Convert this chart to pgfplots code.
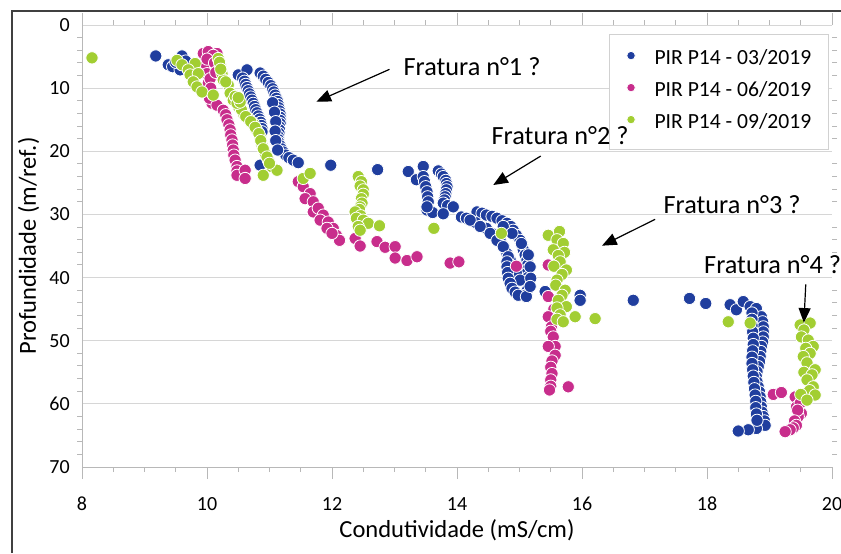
\documentclass[border=0pt]{standalone}
\usepackage{fontspec}
\setmainfont{Carlito}
\usepackage{pgfplots}
\pgfplotsset{compat=1.18}
\usetikzlibrary{arrows.meta}
\definecolor{sblue}{RGB}{32,62,158}
\definecolor{smag}{RGB}{200,45,140}
\definecolor{sgreen}{RGB}{162,206,50}
\begin{document}
\begin{tikzpicture}
\path[use as bounding box] (0,0) rectangle (630.75pt,-414.75pt);
\draw[line width=1.5pt, color=black!75] (9pt,-414.75pt) -- (9pt,-8.25pt) -- (630.75pt,-8.25pt);
\begin{axis}[
  at={(61.5pt,-350.25pt)}, anchor=south west,
  scale only axis, width=562.5pt, height=331.5pt,
  xmin=8, xmax=20, ymin=0, ymax=70, y dir=reverse,
  xtick={8,10,...,20}, ytick={0,10,...,70},
  minor x tick num=3, minor y tick num=4,
  tick align=outside, major tick length=9pt, minor tick length=3.75pt,
  tick style={color=black!28, line width=0.75pt},
  major y tick style={draw=none},
  ymajorgrids, major grid style={color=black!16, line width=0.75pt},
  axis line style={draw=none},
  tick label style={font=\fontsize{15pt}{18pt}\selectfont, inner sep=0pt},
  /pgf/number format/assume math mode=true,
  xticklabel style={anchor=north, yshift=-13.5pt},
  yticklabel style={anchor=east},
  xlabel={Condutividade (mS/cm)},
  ylabel={Profundidade (m/ref.)},
  label style={font=\fontsize{18.4pt}{22pt}\selectfont},
  xlabel style={at={(axis description cs:0.5,-0.1606)}, anchor=base},
  ylabel style={at={(axis description cs:-0.0713,0.5)}, anchor=center},
  clip=false,
  legend cell align=left,
  legend image code/.code={\draw[#1, mark size=3.2pt] plot coordinates {(0pt,3.2pt)}; \path (-3pt,0pt) (17.25pt,0pt);},
  legend style={at={(0.7027,0.9796)}, anchor=north west, draw=black!18, line width=0.75pt,
    font=\fontsize{16.2pt}{19pt}\selectfont, inner xsep=12.75pt, inner ysep=11.5pt, row sep=9pt,
    nodes={inner sep=0pt, text height=11pt, text depth=4pt}},
]
\draw[black!28, line width=0.75pt] (axis description cs:0,1) -- (axis description cs:0,0) -- (axis description cs:1,0);
\addplot[only marks, mark=*, mark size=4.6pt, mark options={draw=white, line width=0.6pt, fill=sblue}] coordinates {
(9.18,4.9) (9.38,6.3) (9.45,6.6) (9.57,7.1) (9.6,4.9) (9.66,5.7) (9.5,5.9)
(10.5,7.9) (10.64,7.1)
(10.85,7.6) (10.9,8.1) (10.94,8.6) (10.98,9.1) (11.02,9.6) (11.05,10.1) (11.07,10.6) (11.09,11.1) (11.11,11.6) (11.13,12.1) (11.14,12.6) (11.15,13.1) (11.16,13.6) (11.17,14.1) (11.17,14.6) (11.17,15.1) (11.17,15.6) (11.16,16.1) (11.16,16.6) (11.15,17.1) (11.14,17.6) (11.14,18.1) (11.15,18.6) (11.17,19.1) (11.19,19.6) (11.22,20.1) (11.26,20.6) (11.31,21.0) (11.38,21.4) (11.46,21.8)
(11.05,12.3) (11.08,13.8) (11.1,15.3) (11.09,16.8) (11.1,18.3) (11.13,19.8)
(10.57,8.4) (10.6,8.9) (10.62,9.4) (10.64,9.9) (10.66,10.4) (10.68,10.9) (10.7,11.4) (10.72,11.9) (10.74,12.4) (10.76,12.9) (10.78,13.4) (10.8,13.9) (10.82,14.4) (10.84,14.9) (10.86,15.4) (10.87,15.9) (10.88,16.4) (10.88,16.9)
(10.85,22.2) (11.98,22.2) (12.73,22.9)
(13.22,23.2) (13.35,24.5) (13.46,22.4) (13.7,23.1) (13.75,23.6) (13.78,24.0) (13.82,24.6) (13.83,25.1) (13.84,25.6) (13.83,26.1) (13.82,26.7) (13.81,27.2) (13.8,27.7) (13.78,28.2) (13.85,28.6) (13.94,28.8) (13.52,29.3) (13.61,29.7) (13.78,29.9) (14.07,30.4) (14.32,29.6) (14.4,29.8) (14.47,30.1) (14.56,30.3) (14.64,30.6) (14.72,31.0) (14.8,31.4) (14.86,31.9) (14.9,32.5) (14.95,33.3) (15.01,34.1) (15.04,34.8) (15.06,35.6) (15.09,36.4) (15.12,37.2) (15.13,38.0) (15.13,38.7) (15.12,39.3) (15.13,40.0) (15.14,40.7) (15.14,41.4) (15.12,42.1) (15.09,42.8)
(13.46,24.0) (13.48,24.8) (13.5,25.6) (13.52,26.4) (13.53,27.2) (13.54,28.0) (13.52,28.8)
(14.15,30.6) (14.3,31.3) (14.47,32.2) (14.58,33.1) (14.69,34.1) (14.75,35.1) (14.8,36.2) (14.85,37.2) (14.9,38.3) (14.95,39.3) (15.01,40.4)
(14.21,30.9) (14.37,31.9) (14.53,33.0) (14.64,34.1) (14.74,35.1) (14.82,36.7) (14.8,37.5) (14.8,38.3) (14.81,39.2) (14.82,40.1) (14.85,40.9) (14.88,41.7) (14.93,42.3) (14.98,42.8) (15.11,43.0)
(14.74,31.9) (14.88,33.0) (15.03,34.6) (15.14,36.4) (15.17,38.3) (15.18,40.1) (15.17,41.4)
(15.41,42.2) (15.97,42.8) (15.97,43.6) (16.82,43.6)
(17.72,43.3) (17.98,44.1) (18.37,44.3) (18.47,45.1) (18.58,43.8) (18.69,44.6) (18.79,44.9)
(18.87,46.2) (18.89,47.0) (18.9,47.8) (18.9,48.6) (18.9,49.4) (18.89,50.2) (18.87,50.9) (18.86,51.7) (18.85,52.5) (18.84,53.3) (18.82,54.1) (18.8,54.9) (18.79,55.7) (18.8,56.5) (18.82,57.3) (18.84,58.1) (18.85,58.9) (18.86,59.7) (18.87,60.5) (18.88,61.3) (18.9,62.0) (18.92,62.7) (18.93,63.4) (18.79,63.9) (18.66,64.1) (18.5,64.3)
(18.72,45.6) (18.72,46.6) (18.72,47.6) (18.73,48.6) (18.74,49.6) (18.74,50.6) (18.73,51.6) (18.72,52.6) (18.72,53.6) (18.73,54.6) (18.74,55.6) (18.75,56.6) (18.76,57.6) (18.77,58.6) (18.78,59.6) (18.78,60.6) (18.79,61.6) (18.8,62.6)
};
\addlegendentry{PIR P14 - 03/2019}
\addplot[only marks, mark=*, mark size=4.6pt, mark options={draw=white, line width=0.6pt, fill=smag}] coordinates {
(9.94,4.5) (10.02,4.2) (10.16,4.5) (10.1,4.8) (9.97,6.1) (10.0,7.7) (10.02,9.2) (10.08,10.8) (10.08,12.4) (10.0,5.4) (10.05,8.5) (10.06,10.0) (10.04,11.6) (10.12,6.0) (10.14,7.5)
(10.16,12.7) (10.26,13.5) (10.3,14.2) (10.32,15.0) (10.35,15.8) (10.37,16.6) (10.38,17.4) (10.4,18.2) (10.41,19.0) (10.42,19.8) (10.43,20.6) (10.45,21.4) (10.48,22.4) (10.48,23.1) (10.48,23.8) (10.61,23.0) (10.61,24.3)
(11.46,24.8) (11.54,25.6) (11.65,26.7) (11.57,27.5) (11.7,28.0) (11.7,29.6) (11.78,29.0) (11.86,30.1) (11.81,30.9) (11.94,31.2) (12.02,32.2) (11.92,32.2) (12.07,33.3) (12.12,34.1) (12.0,33.0)
(12.37,33.8) (12.45,35.0) (12.72,34.3) (12.85,35.2) (13.01,35.1) (13.01,36.9) (13.2,37.3) (13.36,36.7) (13.89,37.7) (14.03,37.5) (14.95,38.2)
(15.46,38.0) (15.46,43.0) (15.55,45.0) (15.46,46.2) (15.51,47.8) (15.5,48.5) (15.54,49.4) (15.57,50.9) (15.46,50.9) (15.57,52.3) (15.52,53.2) (15.5,54.2) (15.52,55.2) (15.5,56.2) (15.5,57.2) (15.48,57.8) (15.78,57.3)
(19.06,58.5) (19.19,58.2) (19.41,58.9) (19.43,60.5) (19.49,59.9) (19.51,61.5) (19.46,62.0) (19.45,61.0) (19.4,62.7) (19.43,63.4) (19.38,63.8) (19.33,64.1) (19.25,64.4)
};
\addlegendentry{PIR P14 - 06/2019}
\addplot[only marks, mark=*, mark size=4.6pt, mark options={draw=white, line width=0.6pt, fill=sgreen}] coordinates {
(8.16,5.2) (9.52,5.6) (9.81,6.1) (9.6,6.3) (9.7,7.1) (9.73,7.9) (9.86,7.7) (9.78,9.0) (9.84,9.8) (9.92,10.6) (10.1,11.1)
(10.18,5.3) (10.21,6.3) (10.24,7.7) (10.26,8.7) (10.34,9.5) (10.37,10.8) (10.42,11.9) (10.5,12.9) (10.58,14.0) (10.66,14.8) (10.74,15.6) (10.79,16.6) (10.85,17.7) (10.88,19.0) (10.93,20.3) (10.98,21.4) (11.03,22.4) (11.12,23.0) (10.9,23.8)
(10.2,5.9) (10.22,7.0) (10.3,9.0) (10.45,11.3) (10.55,13.4) (10.62,14.5) (10.7,15.3) (10.77,16.2) (10.83,17.2) (10.86,18.3) (10.9,19.6) (10.96,20.9) (11.0,21.9) (10.48,12.4) (10.53,12.2) (10.5,11.5)
(11.54,24.3) (11.65,23.5)
(12.42,24.0) (12.47,24.8) (12.45,25.5) (12.5,26.1) (12.5,26.8) (12.47,27.5) (12.48,28.2) (12.45,28.8) (12.44,29.2) (12.37,29.6) (12.46,30.2) (12.39,30.6) (12.5,30.9) (12.58,31.4) (12.42,31.9) (12.45,32.5) (12.76,31.8)
(13.63,32.2) (14.71,33.0)
(15.46,33.3) (15.64,32.7) (15.6,34.0) (15.7,34.6) (15.54,35.6) (15.72,36.0) (15.62,36.5) (15.65,37.5) (15.55,38.2) (15.75,38.8) (15.68,39.5) (15.6,40.4) (15.58,41.2) (15.73,42.0) (15.68,42.8) (15.62,43.6) (15.75,44.6) (15.6,44.8) (15.65,45.9) (15.6,46.6) (15.7,47.0) (15.89,46.2) (16.21,46.5)
(18.34,47.0) (18.69,47.2)
(19.49,47.5) (19.65,47.2) (19.55,48.3) (19.51,49.4) (19.62,49.9) (19.7,50.9) (19.58,51.2) (19.65,52.0) (19.54,52.5) (19.6,53.5) (19.73,54.6) (19.55,55.0) (19.68,55.4) (19.6,56.2) (19.7,57.3) (19.64,57.9) (19.5,58.5) (19.73,58.6) (19.6,59.4)
};
\addlegendentry{PIR P14 - 09/2019}
\coordinate (t1) at (axis cs:14.24,7.92);
\coordinate (t2) at (axis cs:15.65,19.0);
\coordinate (t3) at (axis cs:18.4,29.82);
\coordinate (t4) at (axis cs:19.05,39.33);
\coordinate (a1s) at (axis cs:12.92,7.02);
\coordinate (a1e) at (axis cs:11.75,12.15);
\coordinate (a2s) at (axis cs:15.34,20.75);
\coordinate (a2e) at (axis cs:14.58,25.34);
\coordinate (a3s) at (axis cs:17.17,30.77);
\coordinate (a3e) at (axis cs:16.32,34.95);
\coordinate (a4s) at (axis cs:19.58,41.07);
\coordinate (a4e) at (axis cs:19.55,47.15);
\end{axis}
\begin{scope}[font=\fontsize{19.7pt}{23pt}\selectfont]
\node[anchor=base, inner sep=0pt] at (t1) {Fratura n°1 ?};
\node[anchor=base, inner sep=0pt] at (t2) {Fratura n°2 ?};
\node[anchor=base, inner sep=0pt] at (t3) {Fratura n°3 ?};
\node[anchor=base, inner sep=0pt] at (t4) {Fratura n°4 ?};
\end{scope}
\draw[line width=0.9pt, -{Triangle[length=11pt,width=9pt]}] (a1s) -- (a1e);
\draw[line width=0.9pt, -{Triangle[length=11pt,width=9pt]}] (a2s) -- (a2e);
\draw[line width=0.9pt, -{Triangle[length=11pt,width=9pt]}] (a3s) -- (a3e);
\draw[line width=0.9pt, -{Triangle[length=11pt,width=9pt]}] (a4s) -- (a4e);
\end{tikzpicture}
\end{document}
